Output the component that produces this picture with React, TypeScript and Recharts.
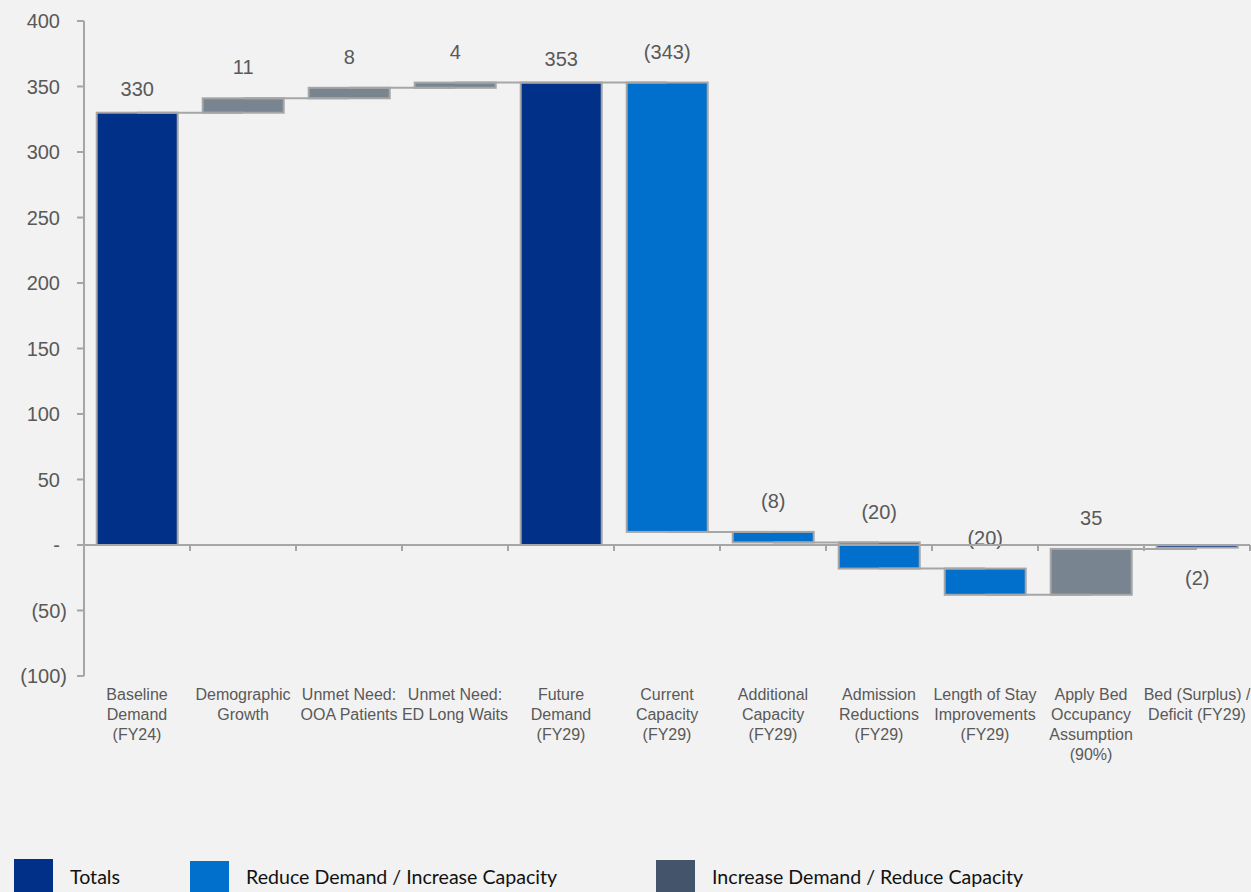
import React from 'react';
import { ComposedChart, Bar, XAxis, YAxis, ReferenceLine, Legend } from 'recharts';

// ---------- data ----------
const categories: string[] = [
  'Baseline\nDemand\n(FY24)',
  'Demographic\nGrowth',
  'Unmet Need:\nOOA Patients',
  'Unmet Need:\nED Long Waits',
  'Future\nDemand\n(FY29)',
  'Current\nCapacity\n(FY29)',
  'Additional\nCapacity\n(FY29)',
  'Admission\nReductions\n(FY29)',
  'Length of Stay\nImprovements\n(FY29)',
  'Apply Bed\nOccupancy\nAssumption\n(90%)',
  'Bed (Surplus) /\nDeficit (FY29)',
];
const values: number[] = [330, 11, 8, 4, 353, -343, -8, -20, -20, 35, -2];
const kinds: string[] = [
  'total', 'increase', 'increase', 'increase', 'total',
  'reduce', 'reduce', 'reduce', 'reduce', 'increase', 'total',
];
const yTicks: number[] = [-100, -50, 0, 50, 100, 150, 200, 250, 300, 350, 400];
const legendItems = [
  { kind: 'total', label: 'Totals' },
  { kind: 'reduce', label: 'Reduce Demand / Increase Capacity' },
  { kind: 'decrease', label: 'Increase Demand / Reduce Capacity' },
];

// ---------- styles ----------
const barColors: Record<string, string> = {
  total: '#003087',
  reduce: '#0070cc',
  increase: '#788591',
};
const legendColors: Record<string, string> = {
  total: '#003087',
  reduce: '#0070cc',
  decrease: '#44546a',
};
const legendItemWidths = [176, 466, 400];
const BORDER = '#a6a6a6';
const TEXT = '#595959';
const FONT = "'Liberation Sans', Arial, sans-serif";

// ---------- derived waterfall table ----------
let level = 0;
const data = categories.map((name, i) => {
  const v = values[i];
  let lo: number;
  let hi: number;
  if (kinds[i] === 'total') {
    lo = Math.min(0, v);
    hi = Math.max(0, v);
    level = v;
  } else {
    const start = level;
    const end = level + v;
    lo = Math.min(start, end);
    hi = Math.max(start, end);
    level = end;
  }
  return { name, pos: i + 0.5, range: [lo, hi], value: v, kind: kinds[i], end: level };
});

const fmt = (v: number) => (v < 0 ? `(${Math.abs(v)})` : v === 0 ? '-' : `${v}`);

const BarShape = (props: any) => {
  const { x, y, width, height, index } = props;
  const d = data[index];
  const top = Math.min(y, y + height);
  const h = Math.abs(height);
  const below = d.kind === 'total' && d.value < 0;
  const off = d.kind === 'total' ? 24 : 31;
  const ly = below ? top + h + 30 : top - off;
  return (
    <g>
      <rect x={x} y={top} width={width} height={h} fill={barColors[d.kind]} stroke={BORDER} strokeWidth={2} />
      <text
        x={x + width / 2}
        y={ly}
        dy="0.36em"
        textAnchor="middle"
        fontSize={20}
        fontFamily={FONT}
        fill={TEXT}
      >
        {fmt(d.value)}
      </text>
    </g>
  );
};

const XTick = (props: any) => {
  const { x, y, payload } = props;
  const lines = String(payload.value).split('\n');
  return (
    <text x={x} y={y} textAnchor="middle" fontSize={16} fontFamily={FONT} fill={TEXT}>
      {lines.map((l, i) => (
        <tspan key={i} x={x} y={y + 24 + i * 20}>
          {l}
        </tspan>
      ))}
    </text>
  );
};

const YTick = (props: any) => {
  const { x, y, payload } = props;
  const v = payload.value as number;
  return (
    <text
      x={v < 0 ? x : x - 7}
      y={y}
      dy="0.36em"
      textAnchor="end"
      fontSize={20}
      fontFamily={FONT}
      fill={TEXT}
    >
      {fmt(v)}
    </text>
  );
};

const LegendContent = () => (
  <div style={{ display: 'flex', alignItems: 'flex-start', paddingLeft: 14 }}>
    {legendItems.map((it, i) => (
      <div key={it.label} style={{ display: 'flex', alignItems: 'flex-start', width: legendItemWidths[i] }}>
        <div style={{ width: 39, height: 40, background: legendColors[it.kind], marginTop: i === 1 ? 2 : i === 2 ? 1 : 0 }} />
        <div
          style={{
            marginLeft: 17,
            paddingTop: 8,
            fontFamily: "Lato, 'Noto Sans', sans-serif",
            fontSize: 19.6,
            lineHeight: '20px',
            color: '#111111',
            whiteSpace: 'nowrap',
          }}
        >
          {it.label}
        </div>
      </div>
    ))}
  </div>
);

export default function App() {
  const n = categories.length;
  const boundaries = Array.from({ length: n }, (_, k) => k + 1);
  return (
    <div
      style={{
        position: 'absolute',
        left: 0,
        top: 0,
        width: 1251,
        height: 892,
        overflow: 'hidden',
        background: '#f2f2f2',
      }}
    >
      <ComposedChart
        width={1251}
        height={892}
        data={data}
        margin={{ top: 21, right: 1, bottom: 116, left: 0 }}
        barCategoryGap="12%"
      >
        <XAxis
          xAxisId="cat"
          dataKey="name"
          interval={0}
          axisLine={false}
          tickLine={false}
          tickSize={0}
          tickMargin={0}
          height={100}
          tick={<XTick />}
        />
        <XAxis
          xAxisId="grid"
          dataKey="pos"
          type="number"
          domain={[0, n]}
          hide
          allowDataOverflow
        />
        <YAxis
          width={84}
          domain={[-100, 400]}
          ticks={yTicks}
          interval={0}
          allowDataOverflow
          axisLine={{ stroke: BORDER, strokeWidth: 2 }}
          tickLine={{ stroke: BORDER, strokeWidth: 2 }}
          tickSize={7}
          tickMargin={10}
          tick={<YTick />}
        />
        <ReferenceLine xAxisId="grid" y={0} stroke={BORDER} strokeWidth={2} />
        {boundaries.map((b) => (
          <ReferenceLine
            key={`t${b}`}
            xAxisId="grid"
            segment={[{ x: b, y: 0 }, { x: b, y: -4.6 }]}
            stroke={BORDER}
            strokeWidth={2}
          />
        ))}
        {data.slice(0, -1).map((d, i) => (
          <ReferenceLine
            key={`c${i}`}
            xAxisId="grid"
            segment={[{ x: d.pos, y: d.end }, { x: data[i + 1].pos, y: d.end }]}
            stroke={BORDER}
            strokeWidth={2}
          />
        ))}
        <Bar xAxisId="cat" dataKey="range" isAnimationActive={false} shape={<BarShape />} />
        <Legend
          layout="vertical"
          verticalAlign="middle"
          align="center"
          content={<LegendContent />}
          wrapperStyle={{ left: 0, top: 859, width: 1251, height: 40 }}
        />
      </ComposedChart>
    </div>
  );
}
